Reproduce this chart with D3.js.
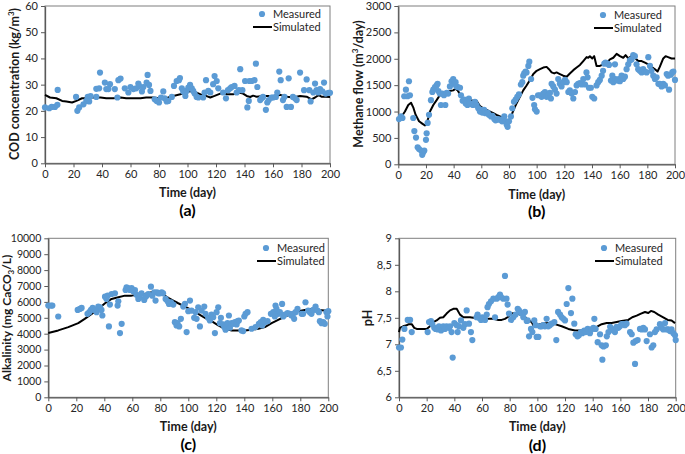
<!DOCTYPE html>
<html><head><meta charset="utf-8">
<script src="https://cdn.jsdelivr.net/npm/d3@7"></script>
<style>
body{margin:0;background:#fff;}
svg{display:block;font-family:Lato,"Open Sans",Arial,sans-serif;}
</style></head>
<body><svg id="c" width="685" height="454"></svg>
<script>
// ---------- DATA ----------
const xTicks = [0,20,40,60,80,100,120,140,160,180,200];

// (a) COD concentration
const codTicks = [0,10,20,30,40,50,60];
const codMeasured = [[0,21.3],[3,21],[4.7,21.5],[7,21.5],[8.7,22.3],[8.9,28],[21.8,25.3],[22.7,20],[24,21.3],[27,22.5],[29,23.8],[30,25.3],[31,23.6],[32,25.6],[36,25.3],[36,28.4],[38,28.6],[38.6,34.6],[42,30.8],[43,28.3],[44.5,28.3],[45.6,30.2],[49,28.3],[50.8,25.1],[51.5,31.7],[53,32.3],[56,28.6],[58.5,27],[60,29.1],[62,28.3],[64,28.6],[65.5,30.4],[66,29.5],[68,27.4],[69,29.1],[71.3,30.8],[72,33.7],[73,29.9],[74,27.6],[77,24.4],[78.4,23.8],[80,23.2],[81.4,25.1],[83,27.4],[84,24.8],[85.4,23.6],[86.5,23.8],[89,25.3],[90.5,29.5],[92.4,31.4],[94,31.7],[94.7,32.5],[96,28.6],[97,27.4],[98.5,25.7],[99.4,27.6],[100.6,28.9],[101.8,29.9],[103,28.6],[104,27.6],[105,26.6],[106.4,25.3],[107.6,25.1],[111,25.1],[112,27],[113,31.7],[114.6,27.6],[116,27],[118,30.2],[119,33.3],[120.5,31.4],[121.6,28.6],[125,27],[127,24.8],[128.4,27.9],[130,28.6],[131,29.1],[133,29.5],[134.5,27],[136,27.9],[137,35.9],[138.5,27.9],[140.4,31.4],[142,21.3],[143,23.8],[143.4,31.4],[145,31.4],[147,31.7],[148,38],[149,29.1],[151,24.1],[152,24.8],[153,25.3],[155,20.4],[156,23.2],[157,24.1],[159,25.1],[160,25.1],[162,25.3],[163,27],[164.4,35],[165.4,31.7],[167,24.1],[168,25.3],[169.6,21.5],[171,32.4],[172.6,21.5],[174,25.3],[175.4,24.8],[176.6,24.1],[179,34.6],[181.8,27.9],[183.6,32],[185.5,27.9],[186.4,23.6],[188.3,27],[189.5,30.4],[190.6,27.9],[191.8,27],[193,28.3],[194.6,27.4],[195.8,30.8],[197,26.6],[199,26.9],[200,26.9]];
const codSimulated = [[0,26.1],[3.5,25.1],[8,24.8],[12,23.8],[15,23.6],[19,23.2],[22,23.8],[26,24.8],[29,24.8],[33,25.1],[39,25.1],[43,24.8],[48,24.8],[53,25.1],[57,24.8],[62,24.8],[67,24.8],[71,25.1],[76,25.1],[80,24.8],[83,24.8],[86.5,25.1],[90,25.7],[95,26.3],[98,27],[100.6,27.4],[104,27.6],[106,27],[110,26.1],[113,25.7],[116,25.1],[119,25.7],[123,26.6],[125.6,27],[127.5,26.3],[132,26.3],[136,27],[139,26.6],[141.5,25.7],[144,25.3],[146,25.8],[148.5,25.4],[153,25.7],[158,25.7],[161,25.4],[165,26.1],[170,25.4],[174,25.1],[179,25.7],[183.6,25.4],[187,24.4],[189.5,25.1],[192,26],[194,25.4],[197,25.4],[200,25.3]];

// (b) Methane flow
const ch4Ticks = [0,500,1000,1500,2000,2500,3000];
const ch4Measured = [[0.5,858],[2,907],[3,877],[4.3,1290],[5.5,1414],[6.7,1290],[7.7,1574],[8.4,1309],[10.8,877],[11.6,630],[12.8,506],[14,321],[15,290],[16.4,260],[17.3,180],[18,229],[18.8,260],[20,463],[20.5,587],[21.2,784],[22.2,938],[23.6,1216],[24.6,1370],[25.3,1414],[26.5,1463],[27.7,1494],[28.4,1525],[29,1389],[30,1340],[30.8,1124],[31.8,1340],[33,1309],[34,1124],[35,1352],[36,1340],[37.3,1475],[38.5,1574],[39.7,1617],[40.5,1525],[41.4,1556],[42,1475],[43,1463],[44.6,1451],[45.3,1309],[46.5,1204],[47.7,1228],[48.7,1154],[50,1124],[51,1247],[51.8,1154],[52.5,1142],[54,1124],[55.4,1185],[56.6,1124],[57.8,1062],[59,1000],[59.7,1031],[60.7,981],[62,1031],[63,969],[64.6,981],[65.5,938],[67,907],[68,920],[69.4,858],[70.3,833],[71.8,858],[72.7,846],[74.2,846],[75,815],[76.6,907],[77.6,815],[78.3,753],[79,710],[80,815],[81.4,907],[82.4,1062],[83.6,1185],[84.8,1228],[86,1278],[87.2,1327],[88.6,1512],[89.6,1556],[90.3,1679],[91,1722],[92,1759],[92.7,1741],[94,1864],[94.7,1944],[96,1617],[97,1259],[98.2,1124],[98.8,1043],[100,1000],[101,1309],[102.4,1309],[103.6,1278],[104.8,1340],[106,1370],[107.2,1278],[108.4,1309],[109.6,1352],[110.3,1247],[110.8,1525],[112,1475],[113.2,1414],[114.4,1340],[115.6,1617],[116.8,1525],[118,1475],[119.2,1556],[120.5,1599],[121.7,1556],[122.9,1370],[124,1401],[125.3,1340],[126.5,1247],[127.7,1370],[128.9,1494],[130,1525],[131.3,1537],[132.5,1512],[133.7,1617],[135,1512],[136,1741],[136.8,1648],[137.8,1451],[139.2,1451],[140.2,1278],[141.6,1247],[143.3,1494],[144.5,1556],[145.7,1599],[147,1679],[148,1772],[148.9,1907],[149.8,1926],[151.3,1907],[152.3,1883],[153.7,1586],[154.7,1679],[155.4,1556],[156.6,1895],[157,1617],[158.5,1586],[159.5,1617],[160.2,1574],[161.4,1679],[162.6,1617],[163.8,1660],[165,1802],[166.2,1895],[167.4,1969],[168.6,1988],[169.8,2068],[171,2049],[172.2,1895],[173.4,1802],[174.6,1772],[175.9,1741],[177,1802],[178.3,1759],[179.5,1741],[180.7,2031],[181.9,1864],[183,1772],[184.3,1679],[185.5,1617],[186.7,1648],[188,1525],[189,1525],[190.3,1475],[191.5,1525],[192.7,1494],[194,1710],[195,1679],[195.7,1414],[197,1697],[198,1741],[198.8,1759],[200,1599]];
const ch4Simulated = [[0,877],[2.4,907],[4.8,1000],[7.2,1124],[9.2,1167],[10.8,1080],[12.5,938],[15,815],[17.3,772],[19.3,735],[20.5,784],[21.7,877],[22.9,1000],[25.3,1124],[27.7,1216],[30,1309],[32.5,1340],[35,1352],[37.3,1389],[39.7,1401],[41.4,1432],[42.9,1401],[44.6,1327],[47,1247],[49.4,1228],[51.8,1216],[54.2,1204],[56.6,1204],[59,1105],[61.4,1062],[63.8,1031],[66.3,1000],[68.7,969],[71,938],[73.5,907],[75.9,877],[78.3,833],[79.5,815],[80.7,846],[81.9,938],[83.8,1062],[85.5,1154],[87.9,1278],[90.3,1401],[92.7,1494],[95.2,1599],[97.6,1710],[100,1772],[102.4,1802],[104.8,1833],[107.2,1846],[108.9,1802],[110.8,1741],[112.7,1722],[114.4,1741],[116.8,1710],[119.2,1679],[121.7,1660],[124,1722],[126.5,1784],[128.9,1833],[131.3,1883],[133.7,1957],[136.1,2031],[137.3,2019],[138.5,2049],[140.2,2006],[141.6,2049],[143.3,1864],[145.7,1864],[148.2,1895],[150.6,1926],[153,1988],[155.4,2019],[157.8,2093],[160.2,2049],[162.6,2019],[164.3,2068],[166.2,2006],[168.6,2049],[171,2019],[173.4,1957],[175.9,1957],[178.3,1926],[180.7,1895],[183,1846],[185.5,1802],[187.4,1759],[189,1846],[191.5,2006],[193.2,2049],[195,2031],[197.5,2006],[200,2006]];

// (c) Alkalinity
const alkTicks = [0,1000,2000,3000,4000,5000,6000,7000,8000,9000,10000];
const alkMeasured = [[0,5769],[1.9,5769],[2.9,5769],[7.1,5081],[21,5497],[22.6,5560],[23.8,5623],[28,5248],[29.3,5352],[30.5,5497],[31.7,5623],[33.3,5497],[34.5,5352],[35.7,5706],[36.9,5665],[38,5497],[38.6,5144],[40.5,6331],[41.6,6185],[42.4,6394],[43.3,4456],[44,5831],[45.2,6498],[47.6,6540],[49.5,5769],[50,6040],[51.2,4040],[52.4,4623],[55.2,6748],[55.9,6915],[57,6873],[58.3,6748],[59.5,6873],[60.7,6665],[61.9,6748],[63,6456],[64.3,6185],[65.4,6290],[66.6,6540],[68.5,6123],[69.5,6331],[70.2,6394],[71.4,6498],[73.3,6956],[74.3,6394],[75.7,6603],[76.6,6081],[77.6,6603],[78.5,6540],[79.7,6540],[81,6603],[82,6540],[83.8,6185],[85.2,6040],[86.2,5873],[87.6,5977],[89.3,5831],[90.4,4727],[91.6,4519],[92.3,4665],[93.5,4456],[94.7,4935],[96.4,5706],[97.6,5873],[98.8,4102],[100,5414],[101.2,6081],[102.3,5456],[104.2,4998],[105.2,5352],[105.9,4935],[107.1,5665],[108.3,4456],[109.5,5456],[111.4,5706],[112.3,5248],[114.2,4998],[115.4,4831],[116.6,5206],[117.8,5040],[119,4040],[120.2,5352],[121.4,5665],[122.6,4665],[123.3,4998],[124.9,4581],[125.7,4415],[126.6,4248],[127.3,4519],[128,4665],[129,5144],[129.7,4373],[131,4665],[132,4623],[133.3,4727],[134.5,4581],[135.2,4790],[136.1,4831],[138,4206],[139.2,4165],[140,5081],[140.9,5248],[142.3,5352],[145.2,4310],[148,4415],[150.4,4623],[151.8,4727],[152.8,4519],[153.5,4873],[154.7,4727],[156.6,4790],[159,5248],[160.7,5352],[161.8,5081],[162.3,5769],[163,5560],[164.2,5248],[165.4,5352],[167,5873],[167.8,5081],[169,5206],[170.9,5289],[172.5,5248],[173.7,5144],[174.9,5248],[175.6,4935],[176.6,5352],[178,5560],[180.9,5248],[182,5248],[183.7,5977],[185.6,5456],[186.8,5352],[188,5248],[189.2,5497],[190.9,5706],[192.3,5456],[193.3,5352],[194,4790],[195.2,4665],[196.4,4727],[197.5,4623],[198.7,5352],[199.4,5081],[200,5414]];
const alkSimulated = [[0,4040],[7.1,4206],[14.3,4415],[21.4,4665],[26,4935],[31,5248],[35.7,5560],[40.5,5915],[45.2,6185],[50,6290],[54.7,6394],[59.5,6394],[64.3,6456],[69,6498],[73.8,6603],[78.5,6603],[82,6456],[85.7,6248],[89.3,6081],[92.8,5915],[97.6,5706],[102.3,5497],[107.1,5248],[111.9,4998],[116.6,4790],[121.4,4519],[126.2,4310],[131,4206],[135.7,4206],[140.4,4206],[145.2,4248],[150,4310],[154.7,4415],[159.5,4665],[164.2,4873],[169,5081],[173.7,5248],[178.5,5414],[183.2,5497],[188,5560],[192.8,5497],[197.5,5456],[200,5497]];

// (d) pH
const phTicks = [6,6.5,7,7.5,8,8.5,9];
const phTickLabels = ["6","6,5","7","7,5","8","8,5","9"];
const phMeasured = [[0,6.94],[1.4,6.94],[2.4,7.09],[3.9,7.29],[6.3,7.46],[8,7.46],[9.2,7.23],[20.7,7.23],[21.7,7.42],[23.1,7.44],[24.1,7.38],[25.5,7.31],[26.5,7.29],[28,7.28],[28.9,7.34],[30.4,7.26],[32,7.34],[33.2,7.29],[34.4,7.34],[36.1,7.31],[36.9,7.34],[38,7.23],[38.8,6.75],[40,7.4],[41.7,7.36],[42.4,7.23],[43.4,7.34],[44.8,7.45],[46.5,7.31],[47.7,7.38],[48.9,7.64],[50.6,7.39],[52,7.23],[53,7.08],[56.1,7.51],[56.8,7.56],[57.8,7.5],[59.3,7.46],[60.2,7.51],[62.2,7.46],[63.4,7.56],[64,7.7],[65,7.76],[66.5,7.81],[68.2,7.86],[69.4,7.51],[70.6,7.86],[71.8,7.89],[73,7.94],[73.7,7.89],[75.4,7.86],[76.6,8.29],[77.7,7.86],[78.5,7.75],[79.5,7.58],[81,7.46],[82.6,7.51],[84.3,7.56],[85.8,7.67],[86.7,7.64],[88.2,7.59],[89.9,7.51],[91,7.61],[92.3,7.44],[93,7.45],[94,7.15],[95.4,7.29],[96.4,7.23],[97.8,7.45],[98.8,7.36],[99.5,7.14],[100.7,7.14],[101.9,7.34],[103.1,7.34],[104.3,7.36],[105.5,7.34],[106.7,7.48],[107.9,7.34],[109,7.36],[110.3,7.39],[112.3,7.42],[113.7,7.08],[115,7.61],[116.4,7.56],[117.6,7.51],[118.8,7.48],[120,7.45],[121.2,7.76],[122.4,8.06],[124.3,7.59],[125.3,7.86],[126.7,7.39],[127.7,7.19],[129,7.15],[130,7.17],[131.5,7.23],[132.5,7.21],[133.9,7.26],[134.9,7.23],[136.4,7.29],[138,7.21],[139.2,7.28],[140.5,7.31],[141.2,7.48],[142.1,7.29],[143.6,7.04],[145.3,7.19],[146.5,6.98],[147,6.71],[147.8,6.96],[149.5,6.98],[150.2,7.15],[151.4,7.23],[152.6,7.33],[153.8,7.29],[155,7.26],[156.1,7.23],[157.3,7.33],[158.5,7.31],[159.7,7.34],[160.9,7.38],[162.1,7.38],[163.3,7.36],[164.5,7.39],[167,7.23],[168.2,7.19],[169.4,7.03],[170.6,6.63],[171,7.06],[172.5,7.08],[174.2,7.29],[175.4,7.28],[176.6,7.31],[177.8,7.28],[179,7.06],[181.4,7.19],[182.6,6.94],[183.8,6.98],[185,7.23],[186.2,7.28],[188.6,7.38],[189.8,7.31],[191,7.28],[192.3,7.4],[193.5,7.28],[194.6,7.28],[195.9,7.25],[197,7.28],[198.3,7.21],[199.5,7.17],[200,7.08]];
const phSimulated = [[0,7.23],[0.7,7.31],[3,7.34],[5.5,7.36],[7.2,7.38],[9.2,7.38],[11,7.31],[12.8,7.29],[16.4,7.29],[20,7.29],[22.4,7.34],[24.8,7.42],[27.2,7.45],[29.6,7.5],[32,7.51],[34.4,7.58],[36.9,7.64],[39.3,7.67],[41.7,7.67],[44.1,7.56],[46.5,7.51],[48.9,7.51],[51.3,7.51],[53.7,7.5],[56.1,7.51],[58.5,7.51],[60.9,7.5],[64.6,7.48],[68.2,7.48],[71.8,7.46],[74.2,7.46],[76.6,7.48],[79,7.52],[81.4,7.58],[83.8,7.59],[86.2,7.58],[88.6,7.54],[91,7.51],[93.5,7.46],[95.9,7.42],[97.1,7.36],[99.5,7.36],[103.1,7.39],[107.9,7.4],[112.7,7.38],[117.6,7.34],[122.4,7.29],[127.2,7.26],[132,7.26],[136.8,7.28],[141.6,7.31],[146.5,7.38],[150.1,7.4],[153.7,7.4],[157.3,7.42],[160.9,7.44],[165.7,7.46],[168.6,7.51],[171.8,7.54],[174.9,7.58],[177.8,7.61],[180.2,7.59],[182.1,7.63],[184.5,7.61],[187.4,7.56],[191,7.51],[194.2,7.46],[197,7.45],[199.5,7.4]];

// ---------- DRAW ----------
const svg = d3.select("#c");
const BLUE = "#5b9bd5";

function panel(o){
  const g = svg.append("g");
  const x = d3.scaleLinear().domain([0,200]).range([o.l, o.r]);
  const y = d3.scaleLinear().domain(o.yDomain).range([o.b, o.t]);
  const fs = o.tickFs || "11px";
  g.append("rect").attr("x",o.l).attr("y",o.t).attr("width",o.r-o.l).attr("height",o.b-o.t)
    .attr("fill","none").attr("stroke","#7f7f7f").attr("stroke-width",1);
  const xa = g.append("g").attr("transform",`translate(0,${o.b})`)
    .call(d3.axisBottom(x).tickValues(xTicks).tickSize(4).tickSizeOuter(0).tickPadding(3));
  const ya = g.append("g").attr("transform",`translate(${o.l},0)`)
    .call(d3.axisLeft(y).tickValues(o.yTicks).tickSize(4).tickSizeOuter(0).tickPadding(3)
      .tickFormat((d,i)=> o.yLabels ? o.yLabels[i] : d));
  [xa,ya].forEach(a=>{
    a.select(".domain").attr("stroke","#595959").attr("stroke-width",1.3);
    a.selectAll(".tick line").attr("stroke","#595959");
    a.selectAll(".tick text").attr("fill","#262626").style("font-size","11px").style("font-family","Lato, 'Open Sans', sans-serif");
  });
  ya.selectAll(".tick text").style("font-size",fs);
  g.append("path").datum(o.sim)
    .attr("d", d3.line().x(d=>x(d[0])).y(d=>y(d[1])))
    .attr("fill","none").attr("stroke","#000").attr("stroke-width",2).attr("stroke-linejoin","round");
  g.selectAll("circle.m").data(o.meas).enter().append("circle")
    .attr("cx",d=>x(d[0])).attr("cy",d=>y(d[1])).attr("r",3.1).attr("fill",BLUE);
  g.append("text").attr("x",(o.l+o.r)/2).attr("y",o.xtY).attr("text-anchor","middle")
    .style("font-weight","bold").style("font-size","12.5px").attr("fill","#1a1a1a").text("Time (day)");
  g.append("text").attr("x",(o.l+o.r)/2).attr("y",o.capY).attr("text-anchor","middle")
    .style("font-weight","bold").style("font-size","16px").attr("fill","#000").text(o.cap);
  const yt = g.append("text").attr("transform",`translate(${o.ytX},${o.ytY}) rotate(-90)`)
    .attr("text-anchor","middle").style("font-weight","bold").style("font-size",o.ytFs||"12.5px").attr("fill","#1a1a1a");
  o.ytParts.forEach(p=>{
    const ts = yt.append("tspan").text(p.t);
    if(p.sup){ ts.style("font-size","8px").attr("dy",-5); }
    if(p.sub){ ts.style("font-size","8px").attr("dy",3); }
    if(p.back){ ts.attr("dy",p.back); }
  });
  const lg = g.append("g");
  lg.append("circle").attr("cx",o.lgX-11).attr("cy",o.lgY-4).attr("r",3.1).attr("fill",BLUE);
  lg.append("text").attr("x",o.lgX).attr("y",o.lgY).style("font-size","11px").attr("fill","#262626").text("Measured");
  lg.append("line").attr("x1",o.lgX-20).attr("x2",o.lgX-1).attr("y1",o.lgY+9).attr("y2",o.lgY+9)
    .attr("stroke","#000").attr("stroke-width",2);
  lg.append("text").attr("x",o.lgX).attr("y",o.lgY+13).style("font-size","11px").attr("fill","#262626").text("Simulated");
}

panel({l:45,r:330,t:6,b:163.3,yDomain:[0,60],yTicks:codTicks,meas:codMeasured,sim:codSimulated,
  xtY:197,capY:216,cap:"(a)",ytX:19,ytY:84,
  ytParts:[{t:"COD concentration (kg/m"},{t:"3",sup:true},{t:")",back:5}],
  lgX:273,lgY:18});
panel({l:398.3,r:675,t:6,b:164.3,yDomain:[0,3000],yTicks:ch4Ticks,meas:ch4Measured,sim:ch4Simulated,
  xtY:199,capY:217,cap:"(b)",ytX:363,ytY:84,
  ytParts:[{t:"Methane flow (m"},{t:"3",sup:true},{t:"/day)",back:5}],
  lgX:614,lgY:19});
panel({l:48.3,r:328.3,t:238.3,b:397.3,yDomain:[0,10000],yTicks:alkTicks,meas:alkMeasured,sim:alkSimulated,
  tickFs:"10.5px",ytFs:"12px",
  xtY:431,capY:450,cap:"(c)",ytX:11,ytY:318,
  ytParts:[{t:"Alkalinity (mg CaCO"},{t:"3",sub:true},{t:"/L)",back:-3}],
  lgX:277,lgY:252});
panel({l:399,r:675.7,t:238.3,b:397.3,yDomain:[6,9],yTicks:phTicks,yLabels:phTickLabels,meas:phMeasured,sim:phSimulated,
  xtY:431,capY:451,cap:"(d)",ytX:372,ytY:318,
  ytParts:[{t:"pH"}],
  lgX:615,lgY:252});
</script></body></html>
